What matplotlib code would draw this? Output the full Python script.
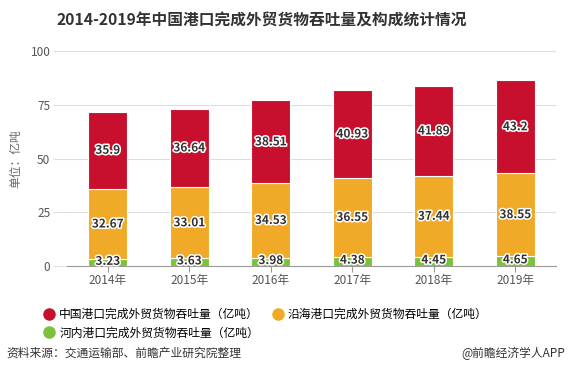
import numpy as np
import matplotlib
matplotlib.use('Agg')
import matplotlib.pyplot as plt
import matplotlib.patheffects as pe
from matplotlib.lines import Line2D

plt.rcParams['font.family'] = ['Noto Sans CJK SC', 'DejaVu Sans']

years = ['2014年', '2015年', '2016年', '2017年', '2018年', '2019年']
inland = [3.23, 3.63, 3.98, 4.38, 4.45, 4.65]
coastal = [32.67, 33.01, 34.53, 36.55, 37.44, 38.55]
china = [35.9, 36.64, 38.51, 40.93, 41.89, 43.2]

c_red = '#c8102e'
c_orange = '#f0aa28'
c_green = '#7cc13a'

fig = plt.figure(figsize=(5.68, 3.84), dpi=100)
ax = fig.add_axes([0.118, 0.307, 0.861, 0.56])

x = np.arange(len(years))
w = 0.48
b1 = np.array(inland)
b2 = b1 + np.array(coastal)
ax.bar(x, inland, w, color=c_green, edgecolor='white', linewidth=0.8, zorder=3)
ax.bar(x, coastal, w, bottom=b1, color=c_orange, edgecolor='white', linewidth=0.8, zorder=3)
ax.bar(x, china, w, bottom=b2, color=c_red, edgecolor='white', linewidth=0.8, zorder=3)

stroke = [pe.withStroke(linewidth=2.2, foreground='white')]
for i in range(len(years)):
    ax.text(x[i], inland[i] / 2 + 0.6, f'{inland[i]:g}', ha='center', va='center',
            fontsize=8.5, fontweight='bold', color='#333333', path_effects=stroke, zorder=5)
    ax.text(x[i], b1[i] + coastal[i] / 2, f'{coastal[i]:g}', ha='center', va='center',
            fontsize=8.5, fontweight='bold', color='#333333', path_effects=stroke, zorder=5)
    ax.text(x[i], b2[i] + china[i] / 2, f'{china[i]:g}', ha='center', va='center',
            fontsize=8.5, fontweight='bold', color='#333333', path_effects=stroke, zorder=5)

ax.set_xlim(-0.5, len(years) - 0.5)
ax.set_ylim(0, 100)
ax.set_yticks([0, 25, 50, 75, 100])
ax.set_xticks(x)
ax.set_xticklabels(years)
ax.yaxis.grid(True, color='#dddddd', linewidth=0.8, zorder=0)
for s in ['top', 'right', 'left']:
    ax.spines[s].set_visible(False)
ax.spines['bottom'].set_color('#999999')
ax.tick_params(axis='y', length=10, color='#dddddd', labelsize=8.5, labelcolor='#555555', pad=2)
ax.tick_params(axis='x', length=4, color='#999999', labelsize=8.5, labelcolor='#555555', pad=2)
ax.set_ylabel('单位：亿吨', fontsize=8.5, color='#666666', labelpad=6)

fig.text(0.46, 0.946, '2014-2019年中国港口完成外贸货物吞吐量及构成统计情况',
         ha='center', va='center', fontsize=11.3, fontweight='bold', color='#333333')

handles = [Line2D([], [], marker='o', linestyle='', color=c, markersize=8)
           for c in [c_red, c_orange, c_green]]
labels = ['中国港口完成外贸货物吞吐量（亿吨）', '沿海港口完成外贸货物吞吐量（亿吨）',
          '河内港口完成外贸货物吞吐量（亿吨）']
fig.legend([handles[0], handles[2], handles[1]], [labels[0], labels[2], labels[1]],
           ncol=2, loc='upper left', bbox_to_anchor=(0.068, 0.21), frameon=False,
           fontsize=8.5, handletextpad=0.35, columnspacing=1.1, labelspacing=0.45,
           borderaxespad=0, handlelength=1.0)

fig.text(0.012, 0.08, '资料来源：交通运输部、前瞻产业研究院整理', ha='left', va='center',
         fontsize=8.5, color='#333333')
fig.text(0.995, 0.08, '@前瞻经济学人APP', ha='right', va='center',
         fontsize=8.5, color='#333333')

fig.savefig('out.png', dpi=100)
